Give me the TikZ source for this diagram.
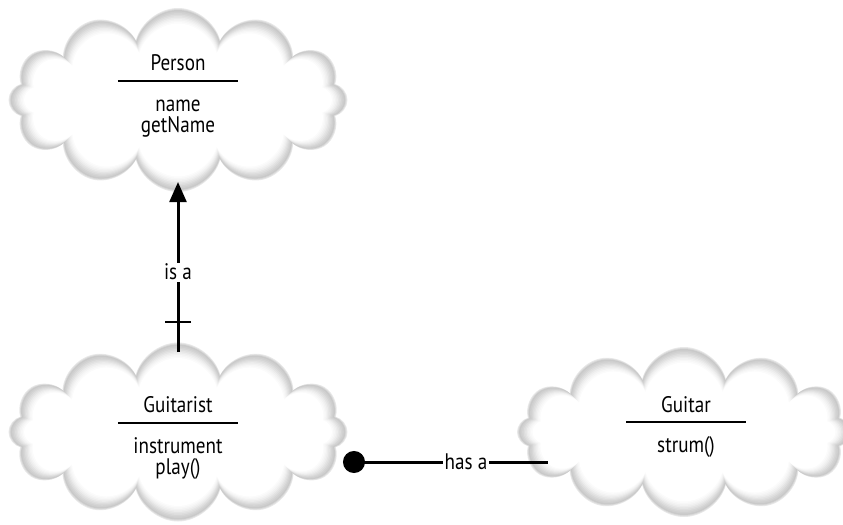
\documentclass[tikz,border=0pt]{standalone}
\usepackage{fontspec}
\setmainfont{PT Sans}[FakeStretch=0.85]
\usepackage{tikz}
\usetikzlibrary{arrows.meta,shapes.symbols,decorations.markings}
\newcommand{\softcloud}[4]{% x, y, width, height (px)
  \foreach \d/\s in {-2/18,-1/30,0/42,1.5/38,3/33,4.5/27,6/21,7.5/15,9/10,10.5/6,12/3,13.5/0}{
    \pgfmathsetmacro{\cw}{(#3-2*\d)*0.25}
    \pgfmathsetmacro{\ch}{(#4-2*\d)*0.25}
    \node[cloudbg, fill=gray!\s, minimum width=\cw mm, minimum height=\ch mm] at (#1,#2) {};
  }
}
\tikzset{
  cloudbg/.style={cloud, cloud puffs=12, cloud ignores aspect, inner sep=0pt, draw=none},
  cls/.style ={align=center, inner sep=0pt, font=\fontsize{16pt}{15pt}\selectfont},
  conn/.style={line width=0.75mm, draw=black},
  isa/.style ={conn, -{Triangle[length=5mm, width=4.2mm]},
               postaction={decorate, decoration={markings,
                 mark=at position 7.5mm with {\draw[-, line width=0.6mm] (0,-3.3mm) -- (0,3.3mm);}}}},
  hasa/.style={conn, {Circle[length=5.5mm]}-},
  lbl/.style ={fill=white, inner sep=1pt, font=\fontsize{16pt}{15pt}\selectfont},
}
\newcommand{\sep}{\rule[7.2pt]{30mm}{0.5mm}}
\begin{document}
\begin{tikzpicture}[x=0.25mm, y=-0.25mm]
  \useasboundingbox (0,0) rectangle (843,525);
  % clouds
  \softcloud{178}{100}{335}{180}
  \softcloud{178}{432}{335}{175}
  \softcloud{684}{432}{330}{166}
  \node[cls] (person) at (178,96) {Person\\\sep\\[-1pt]name\\getName};
  \node[cls] (gtr) at (178,438) {Guitarist\\\sep\\[-1pt]instrument\\play()};
  \node[cls] (gtar) at (686,427) {Guitar\\\sep\\[-1pt]strum()};
  % connector ends on the cloud rims
  \coordinate (isaS) at (178,352);
  \coordinate (isaE) at (178,182);
  \coordinate (hasS) at (343,462);
  \coordinate (hasE) at (548,462);
  \draw[isa] (isaS) -- node[lbl, pos=0.47] (isalbl) {is a} (isaE);
  \draw[hasa] (hasS) -- node[lbl, pos=0.6] (haslbl) {has a} (hasE);
\end{tikzpicture}
\end{document}
